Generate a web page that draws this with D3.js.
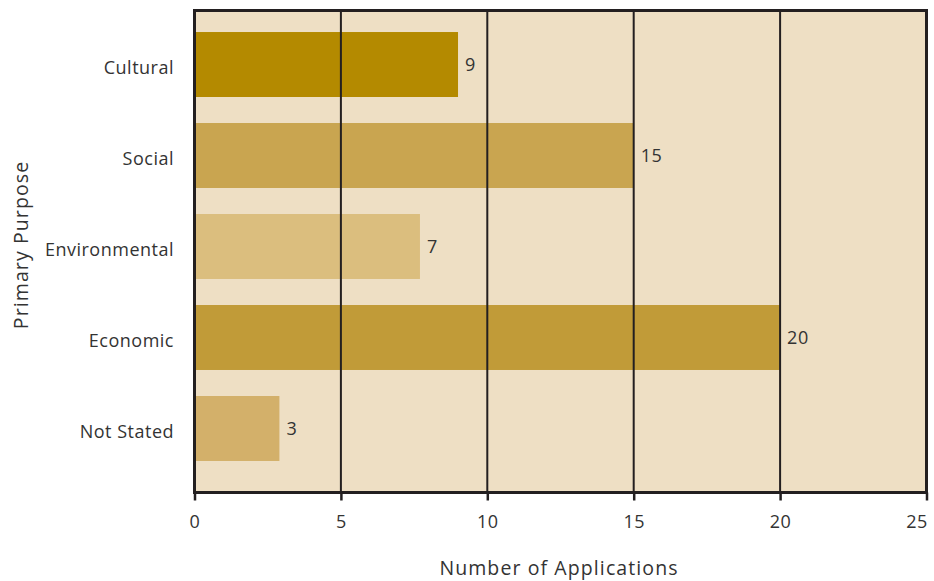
<!DOCTYPE html>
<html>
<head>
  <meta charset="utf-8" />
  <title>Primary Purpose bar chart</title>
  <script src="https://cdn.jsdelivr.net/npm/d3@7"></script>
  <style>
    body { margin: 0; background: #fff; }
    text { font-family: "Open Sans", sans-serif; fill: #333; }
  </style>
</head>
<body>
  <svg id="chart" width="934" height="581"></svg>
  <script>
    // data
    const categories = ["Cultural", "Social", "Environmental", "Economic", "Not Stated"];
    const barLengths = [9, 15, 7.7, 20, 2.9];
    const valueLabels = ["9", "15", "7", "20", "3"];
    const barColors = ["#b48a00", "#c9a550", "#dbbe7e", "#c19b38", "#d3b06a"];
    const xTicks = [0, 5, 10, 15, 20, 25];

    const svg = d3.select("#chart");
    const plotLeft = 194.5, plotRight = 926.5, plotTop = 10.5, plotBottom = 492.5;

    const x = d3.scaleLinear().domain([0, 25]).range([plotLeft, plotRight]);
    const y = d3.scaleBand().domain(categories).range([6, 487]).padding(0.286);

    // plot background
    svg.append("rect")
      .attr("x", plotLeft).attr("y", plotTop)
      .attr("width", plotRight - plotLeft).attr("height", plotBottom - plotTop)
      .attr("fill", "#eedfc4");

    // bars
    const rows = categories.map((c, i) => ({ cat: c, v: barLengths[i], label: valueLabels[i], color: barColors[i] }));
    svg.selectAll("rect.bar")
      .data(rows)
      .enter()
      .append("rect")
      .attr("class", "bar")
      .attr("x", x(0))
      .attr("y", d => y(d.cat))
      .attr("width", d => x(d.v) - x(0))
      .attr("height", y.bandwidth())
      .attr("fill", d => d.color);

    // gridlines over the bars
    svg.selectAll("line.grid")
      .data(xTicks.slice(1, -1))
      .enter()
      .append("line")
      .attr("class", "grid")
      .attr("x1", d => x(d)).attr("x2", d => x(d))
      .attr("y1", plotTop).attr("y2", plotBottom)
      .attr("stroke", "#231f20")
      .attr("stroke-width", 2);

    // frame
    svg.append("rect")
      .attr("x", plotLeft).attr("y", plotTop)
      .attr("width", plotRight - plotLeft).attr("height", plotBottom - plotTop)
      .attr("fill", "none")
      .attr("stroke", "#231f20")
      .attr("stroke-width", 3);

    // x axis
    const xAxis = svg.append("g")
      .attr("transform", "translate(0," + plotBottom + ")")
      .call(d3.axisBottom(x).tickValues(xTicks).tickSize(8).tickPadding(15));
    xAxis.select(".domain").remove();
    xAxis.selectAll(".tick line").attr("stroke", "#231f20").attr("stroke-width", 2.5);
    xAxis.selectAll(".tick text")
      .style("font-family", "'Open Sans', sans-serif")
      .style("font-size", "18px")
      .style("letter-spacing", "0.5px")
      .attr("fill", "#333")
      .attr("dx", d => d === 25 ? -10 : 0);

    // category labels
    svg.selectAll("text.cat")
      .data(categories)
      .enter()
      .append("text")
      .attr("class", "cat")
      .attr("x", 174)
      .attr("y", d => y(d) + y.bandwidth() / 2)
      .attr("dy", "0.52em")
      .attr("text-anchor", "end")
      .style("font-size", "18px")
      .style("letter-spacing", "0.5px")
      .text(d => d);

    // value labels
    svg.selectAll("text.val")
      .data(rows)
      .enter()
      .append("text")
      .attr("class", "val")
      .attr("x", d => x(d.v) + 7)
      .attr("y", d => y(d.cat) + y.bandwidth() / 2)
      .attr("dy", "0.38em")
      .style("font-size", "18px")
      .style("letter-spacing", "0.5px")
      .text(d => d.label);

    // axis titles
    svg.append("text")
      .attr("x", 559).attr("y", 575)
      .attr("text-anchor", "middle")
      .style("font-size", "19.5px")
      .style("letter-spacing", "1.1px")
      .text("Number of Applications");

    svg.append("text")
      .attr("transform", "translate(28,245) rotate(-90)")
      .attr("text-anchor", "middle")
      .style("font-size", "19.5px")
      .style("letter-spacing", "1.1px")
      .text("Primary Purpose");
  </script>
</body>
</html>
